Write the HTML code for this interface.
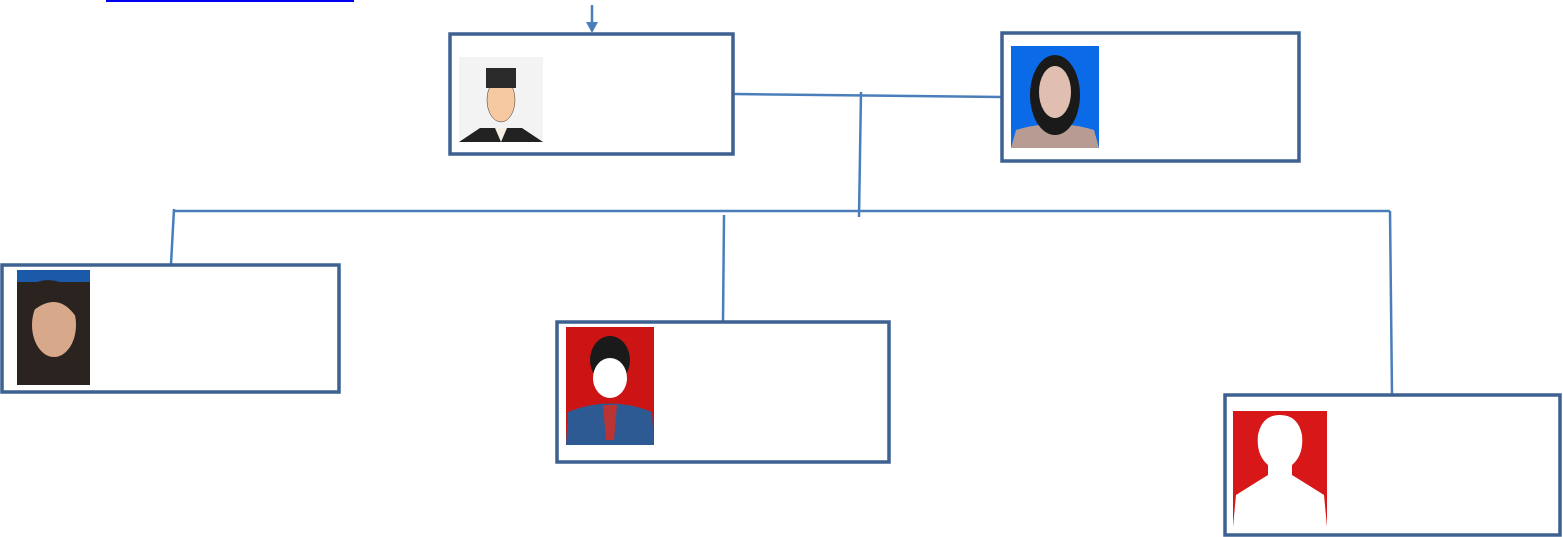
<!DOCTYPE html>
<html><head><style>body{margin:0;background:#fff}svg{display:block}</style></head>
<body>
<svg width="1563" height="537" viewBox="0 0 1563 537" xmlns="http://www.w3.org/2000/svg">
<rect width="1563" height="537" fill="#fff"/>
<line x1="106" y1="1" x2="354" y2="1" stroke="#0000ee" stroke-width="2"/>
<!-- connectors -->
<g stroke="#4a7ebb" stroke-width="2.5" fill="none">
<line x1="592" y1="5" x2="592" y2="24"/>
<line x1="734" y1="94" x2="1002" y2="97"/>
<line x1="861" y1="92" x2="859" y2="217"/>
<line x1="174" y1="211" x2="1390" y2="211"/>
<line x1="174" y1="209" x2="171" y2="264"/>
<line x1="724" y1="215" x2="723" y2="322"/>
<line x1="1390" y1="211" x2="1392" y2="395"/>
</g>
<polygon points="586,22 598,22 592,33" fill="#4a7ebb"/>
<!-- boxes -->
<g stroke="#3d6190" stroke-width="3.5" fill="#fff">
<rect x="450" y="34" width="283" height="120"/>
<rect x="1002" y="33" width="297" height="128"/>
<rect x="2" y="265" width="337" height="127"/>
<rect x="557" y="322" width="332" height="140"/>
<rect x="1225" y="395" width="335" height="140"/>
</g>
<!-- photo A -->
<rect x="459" y="57" width="84" height="85" fill="#f3f3f3"/>
<path d="M459,142 L480,128 L522,128 L543,142Z" fill="#222"/>
<polygon points="495,128 507,128 501,142" fill="#f5efe4"/>
<ellipse cx="501" cy="100" rx="14" ry="22" fill="#f7c9a0" stroke="#333" stroke-width="0.5"/>
<rect x="486" y="68" width="30" height="20" fill="#2a2a2a"/>
<!-- photo B -->
<rect x="1011" y="46" width="88" height="102" fill="#0a6ae8"/>
<path d="M1011,148 L1016,130 Q1055,118 1094,130 L1099,148Z" fill="#b89c94"/>
<ellipse cx="1055" cy="95" rx="25" ry="40" fill="#1a1a1a"/>
<ellipse cx="1055" cy="92" rx="16" ry="26" fill="#e0bfb0"/>
<!-- photo C -->
<rect x="17" y="270" width="73" height="115" fill="#2a2320"/>
<rect x="17" y="270" width="73" height="12" fill="#1a5aa8"/>
<ellipse cx="54" cy="325" rx="22" ry="32" fill="#d8a88a"/>
<path d="M24,290 Q50,268 80,295 L78,320 Q60,290 34,310Z" fill="#2a2320"/>
<!-- photo D -->
<rect x="566" y="327" width="88" height="118" fill="#cc1414"/>
<path d="M566,445 L568,412 Q610,395 652,412 L654,445Z" fill="#2d5a92"/>
<polygon points="603,405 617,405 614,440 606,440" fill="#b33"/>
<ellipse cx="610" cy="360" rx="20" ry="24" fill="#1a1a1a"/>
<ellipse cx="610" cy="378" rx="17" ry="20" fill="#fff"/>
<!-- photo E -->
<rect x="1233" y="411" width="94" height="116" fill="#d81818"/>
<path d="M1233,527 L1236,495 Q1255,483 1268,475 L1268,465 Q1256,455 1258,435 Q1262,415 1280,415 Q1298,415 1302,435 Q1304,455 1292,465 L1292,475 Q1305,483 1324,495 L1327,527Z" fill="#fff"/>
</svg>
</body></html>
